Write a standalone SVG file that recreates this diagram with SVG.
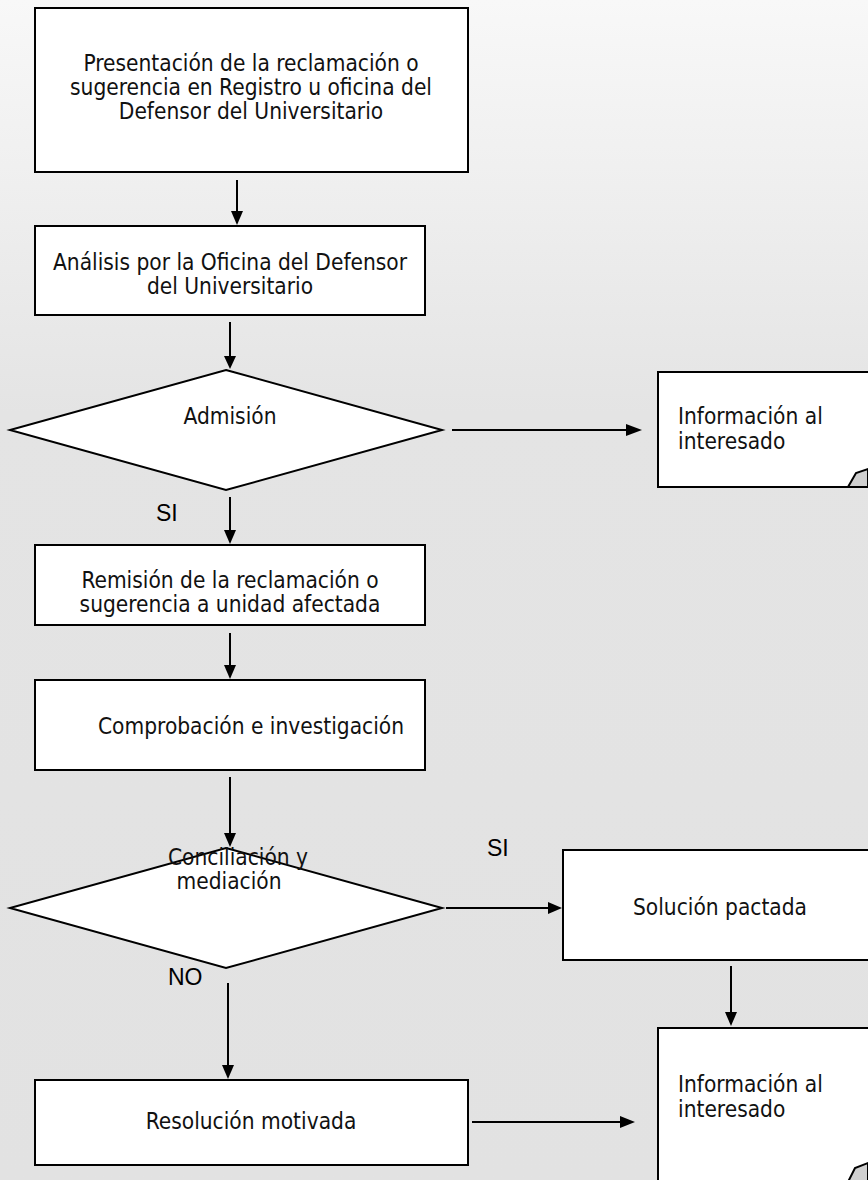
<svg xmlns="http://www.w3.org/2000/svg" width="868" height="1180" viewBox="0 0 868 1180">
<defs>
<linearGradient id="bg" x1="0" y1="0" x2="0" y2="1">
<stop offset="0" stop-color="#f8f8f8"/>
<stop offset="0.35" stop-color="#e4e4e4"/>
<stop offset="1" stop-color="#e2e2e2"/>
</linearGradient>
<style>
.box{fill:#fff;stroke:#000;stroke-width:2}
.fill{fill:#fff}
.edge{fill:none;stroke:#000;stroke-width:2}
.t{font-family:"DejaVu Sans Condensed","DejaVu Sans",Verdana,sans-serif;font-stretch:condensed;font-size:22.5px;fill:#111}
.c{text-anchor:middle}
.lbl{font-family:"Liberation Sans",Arial,sans-serif;font-size:23px;fill:#000}
.ln{stroke:#000;stroke-width:2;fill:none}
.hd{fill:#000}
.fold{fill:#d0d0d0;stroke:#000;stroke-width:2}
</style>
</defs>
<rect x="0" y="0" width="868" height="1180" fill="url(#bg)"/>
<g id="connectors">
<line class="ln" x1="237" y1="180" x2="237" y2="214"/>
<path class="hd" d="M231,211 L243,211 L237,225 z"/>
<line class="ln" x1="230" y1="322" x2="230" y2="360"/>
<path class="hd" d="M224,356 L236,356 L230,369 z"/>
<line class="ln" x1="452" y1="430" x2="630" y2="430"/>
<path class="hd" d="M626,424 L642,430 L626,436 z"/>
<line class="ln" x1="230" y1="497" x2="230" y2="534"/>
<path class="hd" d="M224,530 L236,530 L230,544 z"/>
<line class="ln" x1="230" y1="633" x2="230" y2="669"/>
<path class="hd" d="M224,665 L236,665 L230,679 z"/>
<line class="ln" x1="230" y1="777" x2="230" y2="837"/>
<path class="hd" d="M224,833 L236,833 L230,847 z"/>
<line class="ln" x1="446" y1="908" x2="552" y2="908"/>
<path class="hd" d="M548,902 L562,908 L548,914 z"/>
<line class="ln" x1="731" y1="966" x2="731" y2="1016"/>
<path class="hd" d="M725,1012 L737,1012 L731,1026 z"/>
<line class="ln" x1="228" y1="983" x2="228" y2="1069"/>
<path class="hd" d="M222,1065 L234,1065 L228,1079 z"/>
<line class="ln" x1="472" y1="1122" x2="624" y2="1122"/>
<path class="hd" d="M620,1116 L635,1122 L620,1128 z"/>
</g>
<g id="n1">
<rect class="box" x="35" y="8" width="433" height="164"/>
<text class="t c" x="251" y="71">Presentación de la reclamación o</text>
<text class="t c" x="251" y="95">sugerencia en Registro u oficina del</text>
<text class="t c" x="251" y="119">Defensor del Universitario</text>
</g>
<g id="n2">
<rect class="box" x="35" y="226" width="390" height="89"/>
<text class="t c" x="230" y="270">Análisis por la Oficina del Defensor</text>
<text class="t c" x="230" y="294">del Universitario</text>
</g>
<g id="d1">
<polygon class="box" points="226,370 442,430 226,490 10,430"/>
<text class="t c" x="230" y="424">Admisión</text>
</g>
<g id="note1">
<rect class="fill" x="658" y="372" width="212" height="115"/>
<path class="edge" d="M870,372 L658,372 L658,487 L848,487"/>
<path class="fold" d="M848,487 L856,473 L868,469 L868,487 z"/>
<text class="t" x="678" y="424">Información al</text>
<text class="t" x="678" y="449">interesado</text>
</g>
<text class="lbl" x="156" y="521">SI</text>
<g id="n3">
<rect class="box" x="35" y="545" width="390" height="80"/>
<text class="t c" x="230" y="588">Remisión de la reclamación o</text>
<text class="t c" x="230" y="612">sugerencia a unidad afectada</text>
</g>
<g id="n4">
<rect class="box" x="35" y="680" width="390" height="90"/>
<text class="t c" x="251" y="734">Comprobación e investigación</text>
</g>
<g id="d2">
<polygon class="box" points="226,848 442,908 226,968 10,908"/>
<text class="t c" x="238" y="865">Conciliación y</text>
<text class="t c" x="229" y="889">mediación</text>
</g>
<text class="lbl" x="487" y="856">SI</text>
<g id="n5">
<rect class="fill" x="563" y="850" width="307" height="110"/>
<path class="edge" d="M870,850 L563,850 L563,960 L870,960"/>
<text class="t c" x="720" y="915">Solución pactada</text>
</g>
<text class="lbl" x="168" y="985">NO</text>
<g id="n6">
<rect class="box" x="35" y="1080" width="433" height="85"/>
<text class="t c" x="251" y="1129">Resolución motivada</text>
</g>
<g id="note2">
<rect class="fill" x="658" y="1028" width="212" height="154"/>
<path class="edge" d="M870,1028 L658,1028 L658,1182"/>
<path class="fold" d="M848,1182 L855,1168 L868,1163 L868,1182 z"/>
<text class="t" x="678" y="1092">Información al</text>
<text class="t" x="678" y="1117">interesado</text>
</g>
</svg>
